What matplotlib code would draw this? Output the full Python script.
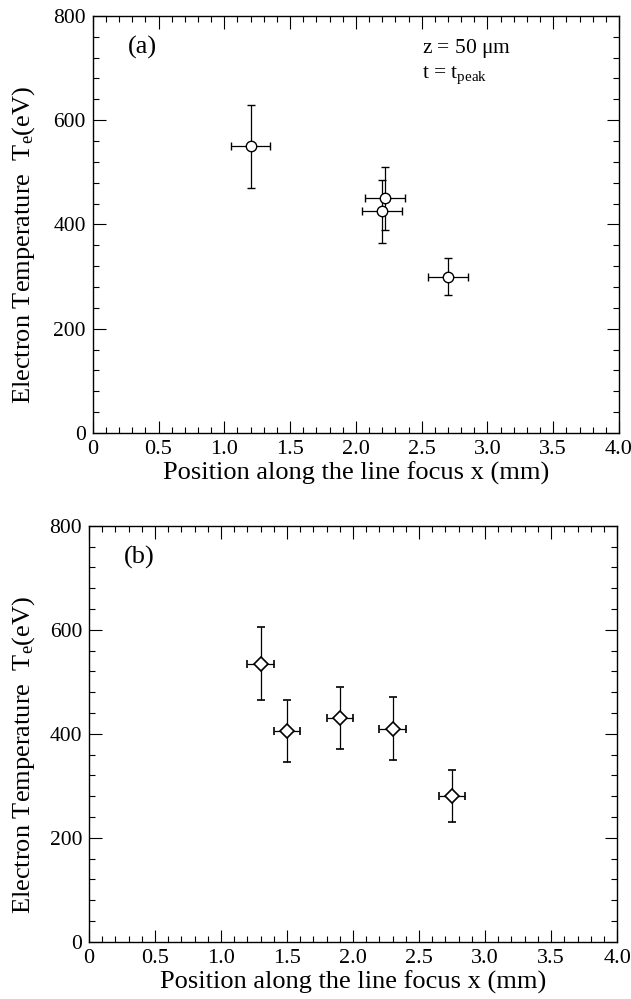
import matplotlib
matplotlib.use("Agg")
import matplotlib.pyplot as plt
from matplotlib.ticker import MultipleLocator

plt.rcParams['font.family'] = ['Liberation Serif', 'DejaVu Serif']
plt.rcParams['mathtext.fontset'] = 'custom'
plt.rcParams['mathtext.rm'] = 'Liberation Serif'
plt.rcParams['mathtext.it'] = 'Liberation Serif'

# panel (a): z = 50 um, t = t_peak
xa = [1.2, 2.22, 2.2, 2.7]
ya = [550, 450, 425, 300]
xerr_a = [0.15, 0.15, 0.15, 0.15]
yerr_a = [80, 60, 60, 35]

# panel (b)
xb = [1.3, 1.5, 1.9, 2.3, 2.75]
yb = [535, 405, 430, 410, 280]
xerr_b = [0.1, 0.1, 0.1, 0.1, 0.1]
yerr_b = [70, 60, 60, 60, 50]

xticks = [0, 0.5, 1.0, 1.5, 2.0, 2.5, 3.0, 3.5, 4.0]
xticklabels = ['0', '0.5', '1.0', '1.5', '2.0', '2.5', '3.0', '3.5', '4.0']

fig = plt.figure(figsize=(6.31, 9.99), dpi=100)
ax1 = fig.add_axes([0.147, 0.5666, 0.834, 0.4175])
ax2 = fig.add_axes([0.141, 0.0573, 0.837, 0.4164])


def style(ax, label, ylab_x):
    ax.set_xlim(0, 4.0)
    ax.set_ylim(0, 800)
    ax.set_xticks(xticks)
    ax.set_xticklabels(xticklabels)
    ax.set_yticks([0, 200, 400, 600, 800])
    ax.xaxis.set_minor_locator(MultipleLocator(0.1))
    ax.yaxis.set_minor_locator(MultipleLocator(40))
    ax.tick_params(which='both', direction='in', top=True, right=True,
                   width=0.8, pad=5)
    ax.tick_params(axis='x', labelsize=16)
    ax.tick_params(axis='y', labelsize=15.5)
    ax.tick_params(which='major', length=9)
    ax.tick_params(which='minor', length=4.5)
    for sp in ax.spines.values():
        sp.set_linewidth(1.0)
    ax.set_xlabel('Position along the line focus x (mm)', fontsize=19, labelpad=2)
    ax.set_ylabel(r'Electron Temperature  T$_{\rm e}$(eV)', fontsize=19)
    ax.yaxis.set_label_coords(ylab_x, 0.45)
    ax.text(0.066, 0.91, label, transform=ax.transAxes, fontsize=19)


ax1.errorbar(xa, ya, xerr=xerr_a, yerr=yerr_a, fmt='o', mfc='white', mec='black',
             ms=7.5, mew=1.0, ecolor='black', elinewidth=0.9, capsize=2.8, capthick=0.9)
style(ax1, '(a)', -0.106)
ax1.text(0.625, 0.91, r'z = 50 $\mu$m', transform=ax1.transAxes, fontsize=15.5)
ax1.text(0.625, 0.85, r't = t$_{\rm peak}$', transform=ax1.transAxes, fontsize=15.5)

ax2.errorbar(xb, yb, xerr=xerr_b, yerr=yerr_b, fmt='D', mfc='white', mec='black',
             ms=7, mew=1.2, ecolor='black', elinewidth=0.9, capsize=2.8, capthick=0.9)
style(ax2, '(b)', -0.099)

fig.savefig('out.png', dpi=100)
